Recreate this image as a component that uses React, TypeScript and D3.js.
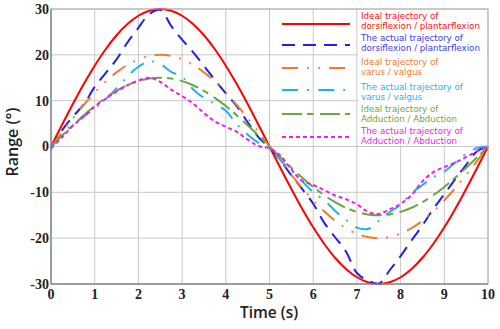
import React, { useEffect, useRef } from 'react';
import * as d3 from 'd3';

// time samples (s)
const time = d3.range(0, 10.001, 0.25);

// ideal trajectories (deg)
const idealDorsi = [0, 4.69, 9.27, 13.62, 17.63, 21.21, 24.27, 26.73, 28.53, 29.63, 30, 29.63, 28.53, 26.73, 24.27, 21.21, 17.63, 13.62, 9.27, 4.69, 0,
  -4.69, -9.27, -13.62, -17.63, -21.21, -24.27, -26.73, -28.53, -29.63, -30, -29.63, -28.53, -26.73, -24.27, -21.21, -17.63, -13.62, -9.27, -4.69, 0];
const idealVarus = [0, 3.13, 6.18, 9.08, 11.76, 14.14, 16.18, 17.82, 19.02, 19.75, 20, 19.75, 19.02, 17.82, 16.18, 14.14, 11.76, 9.08, 6.18, 3.13, 0,
  -3.13, -6.18, -9.08, -11.76, -14.14, -16.18, -17.82, -19.02, -19.75, -20, -19.75, -19.02, -17.82, -16.18, -14.14, -11.76, -9.08, -6.18, -3.13, 0];
const idealAdd = [0, 2.35, 4.64, 6.81, 8.82, 10.61, 12.14, 13.37, 14.27, 14.82, 15, 14.82, 14.27, 13.37, 12.14, 10.61, 8.82, 6.81, 4.64, 2.35, 0,
  -2.35, -4.64, -6.81, -8.82, -10.61, -12.14, -13.37, -14.27, -14.82, -15, -14.82, -14.27, -13.37, -12.14, -10.61, -8.82, -6.81, -4.64, -2.35, 0];

// actual trajectories (deg)
const actualDorsi = [-0.5, 3.5, 6.5, 9.2, 13.0, 16.0, 19.0, 22.7, 25.9, 28.9, 29.8, 26.3, 23.3, 20.6, 17.6, 14.5, 11.6, 8.8, 5.3, 2.0, -0.2,
  -3.0, -6.3, -9.3, -12.5, -16.6, -19.8, -22.9, -27.6, -29.2, -29.9, -27.0, -23.9, -20.5, -17.2, -13.6, -10.4, -7.1, -4.0, -1.0, 0];
const actualVarus = [0, 2.5, 4.8, 6.5, 8.3, 10.3, 12.7, 15.3, 17.4, 18.6, 18.0, 16.3, 15.2, 12.5, 10.6, 9.3, 7.8, 4.9, 2.6, 0.8, 0,
  -3.0, -5.2, -7.6, -10.0, -11.7, -14.0, -16.0, -17.7, -18.0, -16.2, -14.3, -12.7, -10.2, -8.4, -6.7, -5.5, -3.5, -1.6, -0.3, 0];
const actualAdd = [-0.4, 2.0, 4.5, 6.6, 8.7, 10.4, 12.0, 13.4, 14.4, 15.0, 14.1, 12.4, 11.0, 9.4, 7.3, 5.5, 4.3, 3.2, 1.5, 0.1, -0.4,
  -2.0, -5.0, -7.5, -8.4, -9.5, -10.7, -11.5, -12.6, -14.2, -14.7, -13.7, -12.5, -10.6, -7.6, -5.6, -4.5, -3.5, -2.3, -1.0, 0];

const xTicks = [0, 1, 2, 3, 4, 5, 6, 7, 8, 9, 10];
const yTicks = [-30, -20, -10, 0, 10, 20, 30];

const series = [
  { name: ['Ideal trajectory of', 'dorsiflexion / plantarflexion'], values: idealDorsi, color: '#ff0000', text: '#ff1010', dash: null },
  { name: ['The actual trajectory of', 'dorsiflexion / plantarflexion'], values: actualDorsi, color: '#2020e6', text: '#3a3af0', dash: '13,8' },
  { name: ['Ideal trajectory of', 'varus / valgus'], values: idealVarus, color: '#f07c32', text: '#f07c32', dash: '16,9,1.8,9.5,1.8,9' },
  { name: ['The actual trajectory of', 'varus / valgus'], values: actualVarus, color: '#1cb2f0', text: '#1cb2f0', dash: '16,9,1.8,9.5' },
  { name: ['Ideal trajectory of', 'Adduction / Abduction'], values: idealAdd, color: '#6aa83e', text: '#6aa83e', dash: '20,5,6.5,6.5' },
  { name: ['The actual trajectory of', 'Adduction / Abduction'], values: actualAdd, color: '#f01cf0', text: '#f01cf0', dash: '4,3' },
];

const App = () => {
  const svgRef = useRef(null);

  useEffect(() => {
    const svg = d3.select(svgRef.current);
    svg.selectAll('*').remove();

    const W = 500, H = 329;
    const margin = { left: 51, right: 12, top: 9, bottom: 45 };

    const x = d3.scaleLinear().domain([0, 10]).range([margin.left, W - margin.right]);
    const y = d3.scaleLinear().domain([-30, 30]).range([H - margin.bottom, margin.top]);

    svg.append('rect').attr('width', W).attr('height', H).attr('fill', '#fff');

    // grid
    const grid = svg.append('g').attr('stroke', '#c8c8c8').attr('stroke-width', 1);
    xTicks.forEach(t => {
      grid.append('line').attr('x1', x(t)).attr('x2', x(t)).attr('y1', y(-30)).attr('y2', y(30));
    });
    yTicks.forEach(t => {
      grid.append('line').attr('x1', x(0)).attr('x2', x(10)).attr('y1', y(t)).attr('y2', y(t));
    });

    // curves
    const line = d3.line()
      .x((d, i) => x(time[i]))
      .y(d => y(d))
      .curve(d3.curveCatmullRom);

    series.forEach(s => {
      svg.append('path')
        .attr('d', line(s.values))
        .attr('fill', 'none')
        .attr('stroke', s.color)
        .attr('stroke-width', 2)
        .attr('stroke-dasharray', s.dash);
    });

    // frame
    svg.append('rect')
      .attr('x', x(0)).attr('y', y(30))
      .attr('width', x(10) - x(0)).attr('height', y(-30) - y(30))
      .attr('fill', 'none').attr('stroke', '#b0b0b0');
    svg.append('line')
      .attr('x1', x(0)).attr('x2', x(0)).attr('y1', y(30)).attr('y2', y(-30))
      .attr('stroke', '#707070');
    svg.append('line')
      .attr('x1', x(0)).attr('x2', x(10)).attr('y1', y(-30)).attr('y2', y(-30))
      .attr('stroke', '#707070');

    // tick labels
    const tickFont = "'Liberation Serif', 'Times New Roman', serif";
    svg.append('g').selectAll('text').data(yTicks).join('text')
      .attr('x', x(0) - 2).attr('y', d => y(d)).attr('dy', '0.35em')
      .attr('text-anchor', 'end')
      .style('font-family', tickFont).style('font-weight', 'bold').style('font-size', '14px')
      .attr('fill', '#222')
      .text(d => d);
    svg.append('g').selectAll('text').data(xTicks).join('text')
      .attr('x', d => x(d)).attr('y', y(-30) + 15)
      .attr('text-anchor', 'middle')
      .style('font-family', tickFont).style('font-weight', 'bold').style('font-size', '14px')
      .attr('fill', '#222')
      .text(d => d);

    // axis titles
    svg.append('text')
      .attr('x', 269).attr('y', 318)
      .attr('text-anchor', 'middle')
      .style('font-family', "'Open Sans', sans-serif").style('font-size', '15.5px').style('font-weight', 600)
      .attr('fill', '#222')
      .text('Time (s)');
    svg.append('text')
      .attr('transform', 'translate(18,142) rotate(-90)')
      .attr('text-anchor', 'middle')
      .style('font-family', "'Open Sans', sans-serif").style('font-size', '16px').style('font-weight', 600)
      .attr('fill', '#222')
      .text('Range (°)');

    // legend
    const sampleY = [24, 45, 68, 90, 114, 137];
    const textY = [[15.5, 25.8], [37.5, 47.7], [61.5, 71.8], [86.8, 97.3], [108.8, 119], [130.8, 141.3]];
    svg.append('rect')
      .attr('x', 358).attr('y', y(30) + 1).attr('width', x(10) - 359).attr('height', 135)
      .attr('fill', '#fff');
    const leg = svg.append('g');
    series.forEach((s, i) => {
      leg.append('line')
        .attr('x1', 282).attr('x2', 350)
        .attr('y1', sampleY[i]).attr('y2', sampleY[i])
        .attr('stroke', s.color).attr('stroke-width', 2)
        .attr('stroke-dasharray', s.dash);
      s.name.forEach((txt, j) => {
        leg.append('text')
          .attr('x', 361).attr('y', textY[i][j]).attr('dy', '0.35em')
          .style('font-family', "'DejaVu Sans', sans-serif").style('font-size', '8.7px')
          .attr('fill', s.text)
          .text(txt);
      });
    });
  }, []);

  return (
    <div style={{ position: 'absolute', left: 0, top: 0 }}>
      <svg ref={svgRef} width={500} height={329} style={{ display: 'block' }}></svg>
    </div>
  );
};

export default App;
